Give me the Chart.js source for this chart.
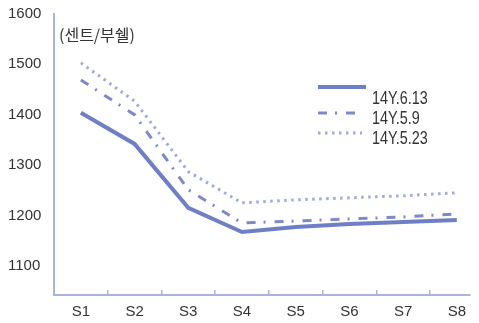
<!DOCTYPE html>
<html>
<head>
<meta charset="utf-8">
<script src="https://cdn.jsdelivr.net/npm/chart.js@4"></script>
<style>
  body { margin: 0; background: #fff; }
  #wrap { position: relative; width: 479px; height: 323px; }
  .txt { position: absolute; color: #333; white-space: nowrap; line-height: 1; }
  #unit { left: 59px; top: 22px; font: 16px "Noto Sans CJK KR", sans-serif; }
  .lg { font: 18px "Liberation Sans", Arial, sans-serif; left: 372px; transform: scaleX(0.8); transform-origin: 0 0; }
  #legendSvg { position: absolute; left: 0; top: 0; }
</style>
</head>
<body>
<div id="wrap">
  <canvas id="c"></canvas>
  <svg id="legendSvg" width="479" height="323"></svg>
  <div id="unit" class="txt">(센트/부쉘)</div>
  <div id="legend"></div>
</div>
<script>
/* wheat price curve — three snapshot dates */
const categories = ["S1", "S2", "S3", "S4", "S5", "S6", "S7", "S8"];
const seriesNames = ["14Y.6.13", "14Y.5.9", "14Y.5.23"];
const jun13 = [1404, 1342, 1215, 1167, 1177, 1183, 1187, 1191];
const may9 = [1469, 1400, 1251, 1185, 1189, 1193, 1197, 1203];
const may23 = [1503, 1427, 1287, 1225, 1231, 1235, 1239, 1245];
const yTicks = [1100, 1200, 1300, 1400, 1500, 1600];

const axisColor = "#aab3de";
const tickFont = { family: "'Liberation Sans', Arial, sans-serif", size: 15 };

const styles = [
  { color: "#6f7fc6", width: 4, dash: [] },
  { color: "#7d89c9", width: 3, dash: [9, 8, 2, 9] },
  { color: "#a1aadb", width: 3, dash: [2.5, 4.5] },
];

const toPts = (arr) => arr.map((v, i) => ({ x: i + 1, y: v }));
const datasets = [jun13, may9, may23].map((arr, k) => ({
  label: seriesNames[k],
  data: toPts(arr),
  borderColor: styles[k].color,
  borderWidth: styles[k].width,
  borderDash: styles[k].dash,
  pointRadius: 0,
  tension: 0,
  fill: false,
}));

new Chart(document.getElementById("c"), {
  type: "line",
  data: { datasets },
  options: {
    responsive: true,
    maintainAspectRatio: false,
    animation: false,
    layout: { padding: { top: 14, left: 8, right: 0, bottom: 0 } },
    plugins: { legend: { display: false }, tooltip: { enabled: false } },
    scales: {
      x: {
        type: "linear",
        min: 0.5,
        max: 8.24,
        afterBuildTicks: (s) => { s.ticks = categories.map((c, i) => ({ value: i + 1 })); },
        afterFit: (s) => { s.height = 28; },
        grid: { offset: true, drawOnChartArea: false, tickLength: -5, color: axisColor, lineWidth: 1.5 },
        border: { color: axisColor, width: 2 },
        ticks: {
          padding: 13, color: "#333", font: tickFont, maxRotation: 0, autoSkip: false,
          callback: (v) => categories[v - 1] ?? "",
        },
      },
      y: {
        min: 1042,
        max: 1600,
        afterBuildTicks: (s) => { s.ticks = yTicks.map((v) => ({ value: v })); },
        afterFit: (s) => { s.width = 46; },
        grid: { display: true, drawOnChartArea: false, drawTicks: false },
        border: { color: axisColor, width: 2 },
        ticks: { crossAlign: "far", color: "#333", font: tickFont, padding: 0, callback: (v) => String(v) },
      },
    },
  },
});

/* legend: sample lines drawn in svg, labels as text */
const legendRows = [
  { ly: 87, x2: 366, ty: 88 },
  { ly: 113, x2: 360, ty: 108 },
  { ly: 133, x2: 362, ty: 128 },
];
const svg = document.getElementById("legendSvg");
const leg = document.getElementById("legend");
legendRows.forEach((r, k) => {
  const st = styles[k];
  const ln = document.createElementNS("http://www.w3.org/2000/svg", "line");
  ln.setAttribute("x1", 318); ln.setAttribute("x2", r.x2);
  ln.setAttribute("y1", r.ly); ln.setAttribute("y2", r.ly);
  ln.setAttribute("stroke", st.color);
  ln.setAttribute("stroke-width", st.width);
  if (st.dash.length) ln.setAttribute("stroke-dasharray", st.dash.join(" "));
  svg.appendChild(ln);
  const d = document.createElement("div");
  d.className = "txt lg";
  d.style.top = r.ty + "px";
  d.textContent = seriesNames[k];
  leg.appendChild(d);
});
</script>
</body>
</html>
